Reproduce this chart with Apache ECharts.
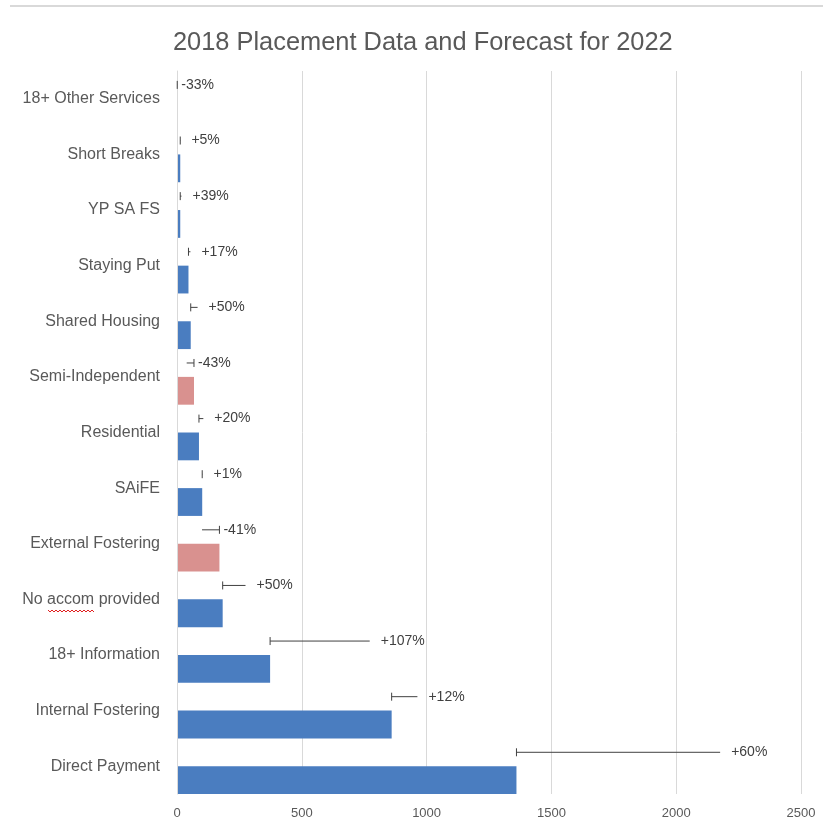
<!DOCTYPE html>
<html>
<head>
<meta charset="utf-8">
<script src="https://cdn.jsdelivr.net/npm/echarts@6/dist/echarts.min.js"></script>
<style>html,body{margin:0;padding:0;background:#fff}#c{width:823px;height:829px}</style>
</head>
<body>
<div id="c"></div>
<script>
// Data (bottom to top)
var categories = ['Direct Payment','Internal Fostering','18+ Information','No accom provided','External Fostering','SAiFE','Residential','Semi-Independent','Shared Housing','Staying Put','YP SA FS','Short Breaks','18+ Other Services'];
var values2018 = [1360, 860, 373, 183, 170, 101, 88, 68, 55, 46, 13, 13, 1];
var changePct = [60, 12, 107, 50, -41, 1, 20, -43, 50, 17, 39, 5, -33];
var xTicks = [0, 500, 1000, 1500, 2000, 2500];

var BLUE = '#4a7dc0', PINK = '#d9918f';
var FONT = 'Liberation Sans, Arial, sans-serif';
var data = categories.map(function (c, i) {
  var f = values2018[i] * (1 + changePct[i] / 100);
  return [values2018[i], i, f, changePct[i]];
});

var chart = echarts.init(document.getElementById('c'));
chart.setOption({
  animation: false,
  title: {
    text: '2018 Placement Data and Forecast for 2022',
    left: 168, top: 25,
    textStyle: { fontFamily: FONT, fontSize: 25.4, fontWeight: 'normal', color: '#595959' }
  },
  graphic: [
    { type: 'line', shape: { x1: 10, y1: 6, x2: 823, y2: 6 }, style: { stroke: '#d9d9d9', lineWidth: 2 } },
    { type: 'polyline', shape: { points: [[48,610],[50,612],[52,610],[54,612],[56,610],[58,612],[60,610],[62,612],[64,610],[66,612],[68,610],[70,612],[72,610],[74,612],[76,610],[78,612],[80,610],[82,612],[84,610],[86,612],[88,610],[90,612],[92,610],[94,612]] }, style: { stroke: '#e02020', lineWidth: 1, fill: null } }
  ],
  grid: { left: 177, right: 22, top: 71, bottom: 35 },
  xAxis: {
    type: 'value', min: xTicks[0], max: xTicks[xTicks.length - 1], interval: 500,
    axisLine: { show: false }, axisTick: { show: false },
    splitLine: { show: true, lineStyle: { color: '#d9d9d9', width: 1 } },
    axisLabel: { color: '#595959', fontSize: 13, margin: 13, fontFamily: FONT, formatter: function (v) { return String(v); } }
  },
  yAxis: {
    type: 'category', data: categories,
    axisLine: { show: true, lineStyle: { color: '#d9d9d9' } }, axisTick: { show: false },
    axisLabel: { color: '#595959', fontSize: 16, margin: 17, fontFamily: FONT }
  },
  series: [{
    type: 'custom',
    data: data,
    encode: { x: 0, y: 1 },
    renderItem: function (params, api) {
      var v = api.value(0), idx = api.value(1), f = api.value(2), pct = api.value(3);
      var p0 = api.coord([0, idx]);
      var pv = api.coord([v, idx]);
      var pf = api.coord([f, idx]);
      var band = api.size([0, 1])[1];
      var cy = p0[1];
      var ey = cy - band / 4;
      var color = pct < 0 ? PINK : BLUE;
      var lbl = (pct > 0 ? '+' : '') + pct + '%';
      var maxX = Math.max(pv[0], pf[0]);
      var children = [
        { type: 'rect', shape: { x: p0[0] + 1, y: cy, width: Math.max(0, pv[0] - p0[0] - 1), height: band / 2 }, style: { fill: color } },
        { type: 'line', shape: { x1: pv[0], y1: ey, x2: pf[0], y2: ey }, style: { stroke: '#404040', lineWidth: 1 } },
        { type: 'line', shape: { x1: pv[0], y1: ey - 4, x2: pv[0], y2: ey + 4 }, style: { stroke: '#404040', lineWidth: 1 } },
        { type: 'text', x: maxX + (pct < 0 ? 4 : 11), y: ey, style: { text: lbl, fill: '#404040', fontSize: 14, fontFamily: FONT, verticalAlign: 'middle', align: 'left' } }
      ];
      return { type: 'group', children: children };
    }
  }]
});
</script>
</body>
</html>
